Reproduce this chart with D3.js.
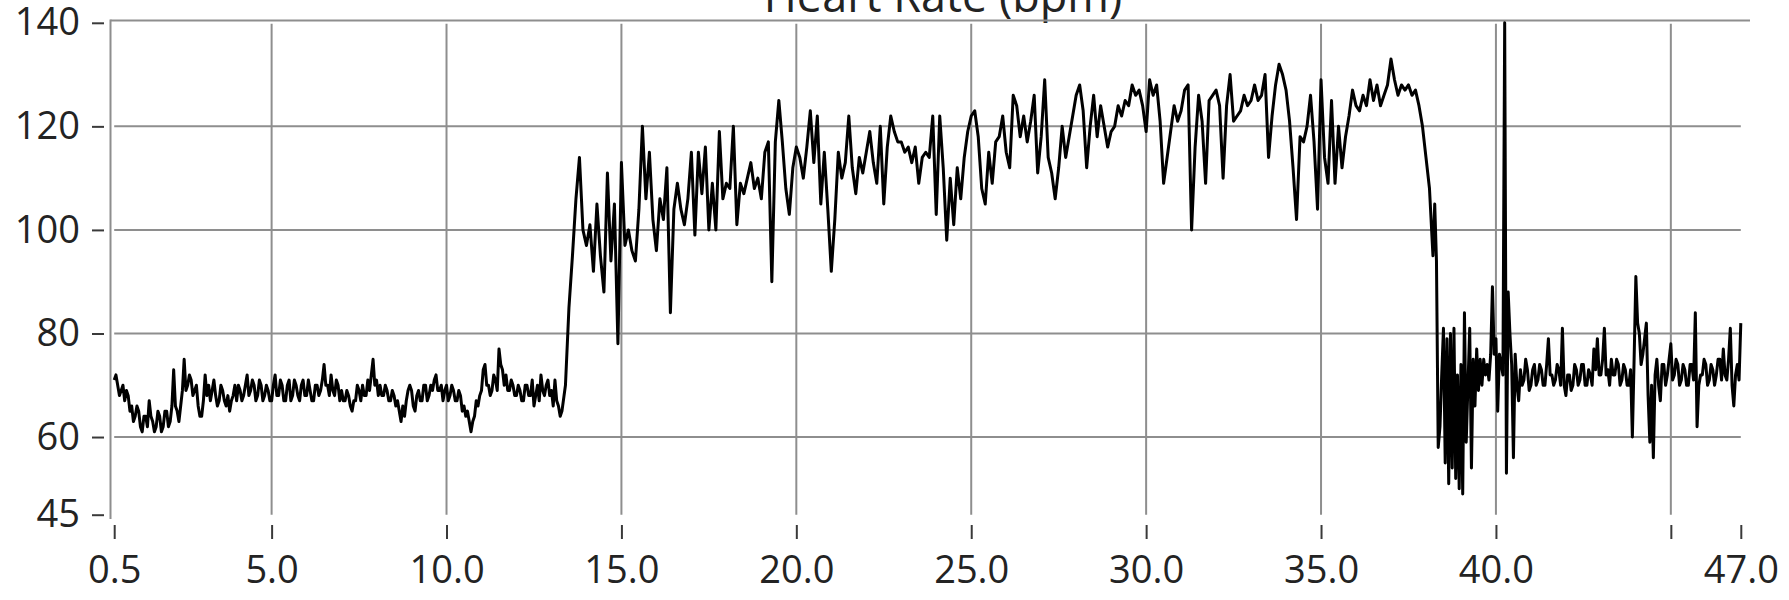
<!DOCTYPE html>
<html>
<head>
<meta charset="utf-8">
<script src="https://cdn.jsdelivr.net/npm/d3@7"></script>
<style>
  html, body { margin: 0; padding: 0; background: #ffffff; }
  svg { display: block; }
</style>
</head>
<body>
<script>
// Heart rate recording, minutes vs. beats per minute.
// Each segment is sampled at a fixed interval starting at its start time.

const restStart = 0.5, restStep = 0.05;
const restHR = [
  71, 72, 70, 68, 69, 70, 67, 69, 68, 65,
  66, 63, 64, 66, 65, 62, 61, 64, 64, 62, 67, 64, 63, 61, 62, 65, 64, 61, 62, 65,
  65, 62, 63, 66, 73, 66, 65, 63, 66, 69, 75, 69, 70, 72, 71, 68, 69, 70, 66, 64,
  64, 67, 72, 68, 70, 67, 69, 71, 68, 66, 67, 70, 69, 67, 66, 68, 65, 67, 68, 70,
  67, 70, 69, 67, 68, 70, 72, 68, 69, 71, 70, 67, 68, 71, 70, 67, 68, 70, 69, 67,
  67, 70, 72, 68, 68, 71, 70, 67, 67, 70, 71, 67, 68, 71, 70, 68, 67, 70, 71, 68,
  68, 71, 69, 67, 67, 70, 70, 68, 69, 71, 74, 70, 70, 68, 72, 69, 68, 71, 70, 67,
  69, 67, 67, 69, 68, 66, 65, 67, 67, 70, 69, 67, 70, 68, 68, 71, 69, 72, 75, 70,
  71, 68, 70, 68, 68, 70, 69, 67, 67, 69, 68, 66, 67, 65, 63, 66, 64, 67, 69, 70,
  69, 66, 65, 68, 69, 67, 67, 70, 70, 67, 68, 70, 69, 71, 72, 69, 69, 70, 67, 69,
  70, 67, 68, 70, 69, 67, 67, 69, 68, 65, 66, 64, 65, 63, 61, 63, 64, 67, 66, 68,
  69, 73, 74, 70, 70, 68, 69, 72, 71, 69, 77, 74, 73, 70, 72, 69, 69, 71, 70, 68,
  68, 70, 69, 67, 67, 70, 70, 68, 68, 71, 66, 68, 70, 67, 72, 69, 68, 70, 71, 68,
  69, 66, 71, 67, 66, 64, 65
];

const exerciseStart = 13.4, exerciseStep = 0.1;
const exerciseHR = [
  70, 85, 95, 106, 114, 100,
  97, 101, 92, 105, 95, 88, 111, 94, 105, 78,
  113, 97, 100, 96, 94, 104, 120, 106, 115, 102,
  96, 106, 102, 112, 84, 104, 109, 104, 101, 106,
  115, 99, 115, 107, 116, 100, 109, 100, 119, 106,
  109, 108, 120, 101, 109, 107, 110, 113, 108, 110,
  106, 115, 117, 90, 117, 125, 117, 108, 103, 112,
  116, 114, 110, 116, 123, 113, 122, 105, 115, 104,
  92, 102, 115, 110, 113, 122, 112, 107, 114, 111,
  115, 119, 113, 109, 120, 105, 116, 122, 119, 117,
  117, 115, 116, 113, 116, 109, 114, 115, 114, 122,
  103, 122, 112, 98, 110, 101, 112, 106, 114, 119,
  122, 123, 118, 108, 105, 115, 109, 117, 118, 122,
  115, 112, 126, 124, 118, 122, 117, 121, 126, 111,
  118, 129, 114, 111, 106, 112, 120, 114, 118, 122,
  126, 128, 123, 112, 120, 126, 118, 124, 120, 116,
  119, 120, 124, 122, 125, 124, 128, 126, 127, 124,
  119, 129, 126, 128, 121, 109, 114, 119, 124, 121,
  123, 127, 128, 100, 116, 126, 121, 109, 125, 126,
  127, 124, 110, 124, 130, 121, 122, 123, 126, 124,
  125, 128, 125, 126, 130, 114, 122, 128, 132, 130,
  127, 121, 112, 102, 118, 117, 120, 126, 117, 104,
  129, 114, 109, 125, 109, 120, 112, 118, 122, 127,
  124, 123, 126, 124, 129, 125, 128, 124, 126, 128,
  133, 129, 126, 128, 127, 128, 126, 127, 124, 120,
  114, 108, 95
];

const recoveryStart = 38.25, recoveryStep = 0.05;
const recoveryHR = [
  105, 94, 58, 62, 72, 81, 55, 79, 51, 80,
  54, 81, 52, 72, 50, 74, 49, 84, 59, 70,
  81, 54, 75, 66, 77, 69, 75, 70, 75, 72,
  74, 71, 76, 89, 76, 79, 65, 76, 74, 72,
  140, 53, 88, 80, 74, 56, 76, 70, 67, 73
];

const cooldownStart = 40.75, cooldownStep = 0.05;
const cooldownHR = [
  70, 71, 75, 73, 69,
  70, 73, 74, 70, 71, 74, 73, 70, 70, 74, 79, 72, 72, 70, 71, 74, 73, 70, 81, 70,
  68, 72, 72, 69, 70, 74, 73, 70, 71, 74, 74, 70, 70, 73, 72, 70, 77, 73, 79, 72,
  72, 75, 81, 72, 73, 70, 75, 72, 72, 75, 74, 70, 71, 74, 73, 70, 70, 73, 60, 75,
  91, 82, 80, 74, 76, 79, 82, 68, 59, 70, 56, 72, 75, 70, 67, 74, 74, 70, 72, 75,
  78, 71, 72, 75, 74, 70, 71, 74, 73, 70, 70, 74, 74, 71, 84, 62, 70, 72, 72, 75,
  74, 70, 71, 74, 73, 70, 72, 75, 75, 71, 77, 72, 71, 75, 81, 70, 66, 72, 74, 71,
  82
];

const xTicks = [0.5, 5, 10, 15, 20, 25, 30, 35, 40, 45, 47];
const xTickLabels = ["0.5", "5.0", "10.0", "15.0", "20.0", "25.0", "30.0", "35.0", "40.0", "", "47.0"];
const xGridValues = [5, 10, 15, 20, 25, 30, 35, 40, 45];
const yTicks = [45, 60, 80, 100, 120, 140];
const yGridValues = [60, 80, 100, 120];
const chartTitle = "Heart Rate (bpm)";

// Expand each segment into {t, v} samples.
function samples(start, step, values) {
  return values.map((v, i) => ({ t: +(start + i * step).toFixed(3), v }));
}
const series = [].concat(
  samples(restStart, restStep, restHR),
  samples(exerciseStart, exerciseStep, exerciseHR),
  samples(recoveryStart, recoveryStep, recoveryHR),
  samples(cooldownStart, cooldownStep, cooldownHR)
);

const W = 1789, H = 600;
const FONT = "'Open Sans', 'Noto Sans', sans-serif";
const GRID = "#8e8e8e";
const INK = "#232323";

const x = d3.scaleLinear().domain([0.5, 47]).range([114.2, 1740.8]);
const y = d3.scaleLinear().domain([45, 140]).range([514.7, 22.8]);

const svg = d3.select("body").append("svg")
  .attr("width", W).attr("height", H)
  .style("background", "#ffffff");

// Title, partly above the top edge of the canvas
svg.append("text")
  .attr("x", 943).attr("y", 12)
  .attr("text-anchor", "middle")
  .attr("font-family", FONT).attr("font-size", 45)
  .attr("fill", INK)
  .text(chartTitle);

// Grid
const grid = svg.append("g").attr("stroke", GRID).attr("stroke-width", 2);
grid.selectAll("line.h").data(yGridValues).join("line")
  .attr("class", "h")
  .attr("x1", x(0.5)).attr("x2", x(47))
  .attr("y1", d => y(d)).attr("y2", d => y(d));
grid.selectAll("line.v").data(xGridValues).join("line")
  .attr("class", "v")
  .attr("x1", d => x(d)).attr("x2", d => x(d))
  .attr("y1", y(140) + 1).attr("y2", y(45));

// Frame: top border and left axis line
svg.append("line")
  .attr("x1", 110.5).attr("x2", 1750).attr("y1", 20.5).attr("y2", 20.5)
  .attr("stroke", GRID).attr("stroke-width", 2);
svg.append("line")
  .attr("x1", 110.5).attr("x2", 110.5).attr("y1", 19.5).attr("y2", 519)
  .attr("stroke", GRID).attr("stroke-width", 2);

// Y axis ticks and labels
const yAxis = d3.axisLeft(y).tickValues(yTicks).tickSizeInner(12).tickSizeOuter(0)
  .tickPadding(12).tickFormat(d3.format("d"));
const gy = svg.append("g").attr("transform", "translate(104,0)").call(yAxis);
gy.select(".domain").remove();
gy.selectAll(".tick line").attr("stroke", "#3a3a3a").attr("stroke-width", 2);
gy.selectAll(".tick text")
  .attr("font-family", FONT).attr("font-size", 38).attr("fill", INK);

// X axis ticks and labels, set below the plot
const xAxis = d3.axisBottom(x).tickValues(xTicks).tickSizeInner(14).tickSizeOuter(0)
  .tickPadding(17).tickFormat((d, i) => xTickLabels[i]);
const gx = svg.append("g").attr("transform", "translate(0,525)").call(xAxis);
gx.select(".domain").remove();
gx.selectAll(".tick line").attr("stroke", "#3a3a3a").attr("stroke-width", 2);
gx.selectAll(".tick text")
  .attr("font-family", FONT).attr("font-size", 38).attr("fill", INK);

// Heart rate trace
const line = d3.line().x(d => x(d.t)).y(d => y(d.v));
svg.append("path")
  .datum(series)
  .attr("d", line)
  .attr("fill", "none")
  .attr("stroke", "#000000")
  .attr("stroke-width", 3)
  .attr("stroke-linejoin", "round");
</script>
</body>
</html>
